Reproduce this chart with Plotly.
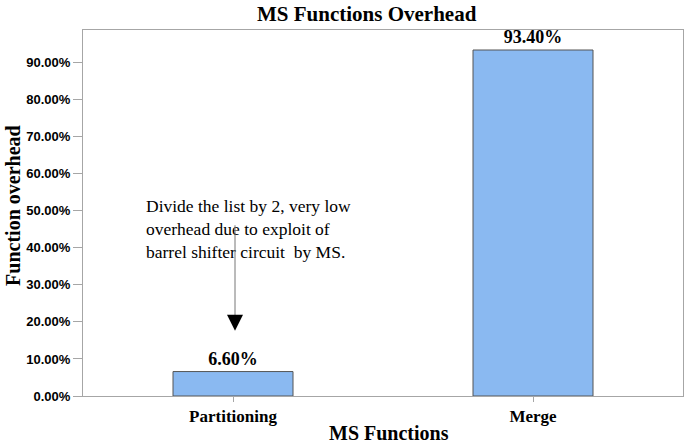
import plotly.graph_objects as go

categories = ["Partitioning", "Merge"]
overhead = [6.6, 93.4]
bar_labels = ["6.60%", "93.40%"]
y_tickvals = [0, 10, 20, 30, 40, 50, 60, 70, 80, 90]
y_ticktext = ["%.2f%%" % v for v in y_tickvals]

serif = "Liberation Serif, Times New Roman, serif"
sans = "Liberation Sans, Arial, sans-serif"
frame = "#a6a6a6"

fig = go.Figure()
fig.add_trace(go.Bar(
    x=categories, y=overhead, width=0.4,
    marker=dict(color="#8ab9f1", line=dict(color="#555555", width=1)),
    text=bar_labels, textposition="outside", cliponaxis=False,
    textfont=dict(family=serif, size=18, color="black", weight="bold"),
    hoverinfo="skip",
))

fig.update_layout(
    width=685, height=444,
    margin=dict(l=83, r=2, t=30, b=48, autoexpand=False),
    paper_bgcolor="white", plot_bgcolor="white",
    showlegend=False,
    xaxis=dict(
        automargin=False,
        showline=True, linecolor=frame, mirror=True, linewidth=1,
        ticks="outside", ticklen=5, tickcolor=frame,
        tickfont=dict(family=serif, size=17, color="black", weight="bold"),
        showgrid=False,
    ),
    yaxis=dict(
        automargin=False,
        range=[0, 98.8], showline=True, linecolor=frame, mirror=True, linewidth=1,
        tickvals=y_tickvals, ticktext=y_ticktext,
        ticks="outside", ticklen=9, tickcolor=frame,
        tickfont=dict(family=sans, size=13, color="black", weight="bold"),
        showgrid=False, zeroline=False,
    ),
    annotations=[
        dict(text="<b>MS Functions Overhead</b>", xref="paper", yref="paper",
             x=0.473, y=1.082, xanchor="center", yanchor="top", showarrow=False,
             font=dict(family=serif, size=21, color="black")),
        dict(text="<b>Function overhead</b>", xref="paper", yref="paper",
             x=-0.118, y=0.52, xanchor="center", yanchor="middle", textangle=-90,
             showarrow=False, font=dict(family=serif, size=20, color="black")),
        dict(text="<b>MS Functions</b>", xref="paper", yref="paper",
             x=0.51, y=-0.101, xanchor="center", yanchor="middle",
             showarrow=False, font=dict(family=serif, size=20, color="black")),
        dict(text="Divide the list by 2, very low<br>overhead due to exploit of<br>barrel shifter circuit  by MS.",
             xref="paper", yref="paper", x=0.1017, y=0.553, xanchor="left", yanchor="top",
             align="left", showarrow=False,
             font=dict(family=serif, size=17.5, color="black")),
        dict(text=" ", x="Partitioning", y=19.9, xref="x", yref="y", xshift=2,
             showarrow=True, arrowhead=0, arrowwidth=1, arrowcolor="#777777",
             ax=0, ay=-99, font=dict(size=1)),
        dict(text=" ", x="Partitioning", y=17.6, xref="x", yref="y", xshift=2,
             showarrow=True, arrowhead=2, arrowsize=3.2, arrowwidth=1, arrowcolor="black",
             ax=0, ay=-14, font=dict(size=1)),
    ],
)

fig.write_html("out.html", config={"displayModeBar": False},
               post_script="document.body.style.margin='0';")
